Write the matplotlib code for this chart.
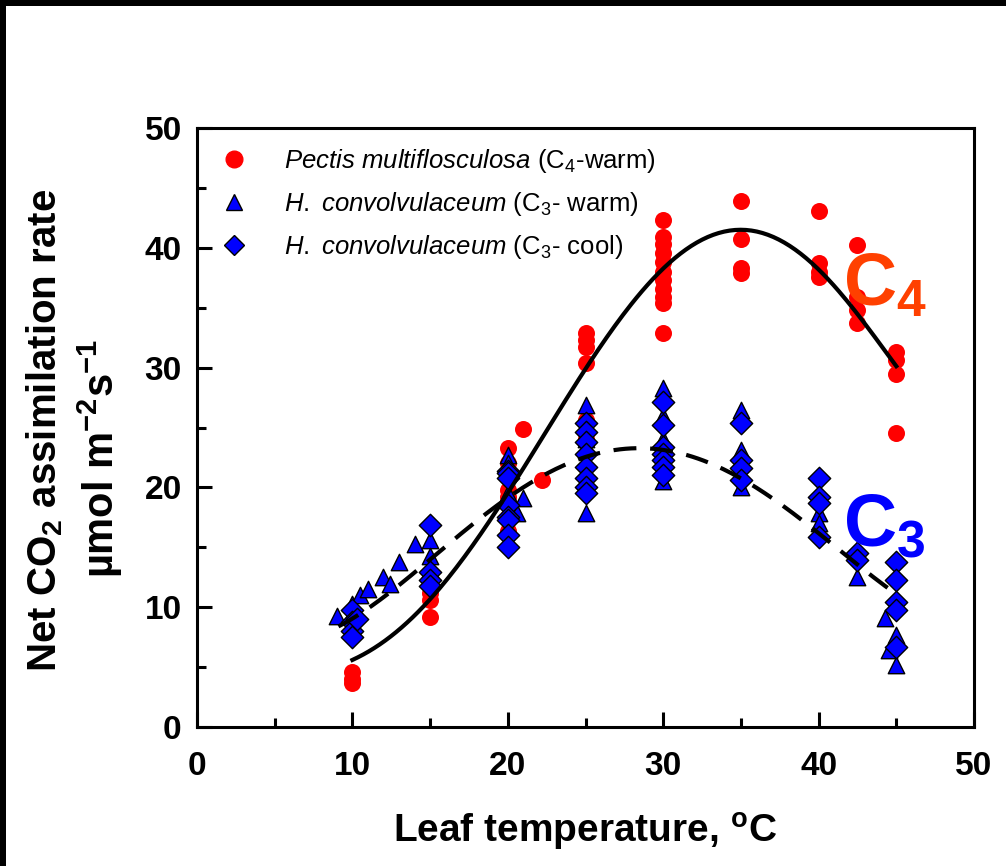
import numpy as np
import matplotlib
matplotlib.use("Agg")
import matplotlib.pyplot as plt
from matplotlib.patches import Rectangle
from matplotlib.lines import Line2D

plt.rcParams['font.family'] = ['Liberation Sans', 'DejaVu Sans']
plt.rcParams['mathtext.fontset'] = 'custom'
plt.rcParams['mathtext.rm'] = 'Liberation Sans'
plt.rcParams['mathtext.it'] = 'Liberation Sans:italic'
plt.rcParams['mathtext.bf'] = 'Liberation Sans:bold'

# ---------------- data ----------------
c4_temp = [10, 10, 10,
           15, 15, 15,
           20, 20, 20, 20, 20, 20, 20,
           21, 22.2,
           25, 25, 25, 25, 25, 25,
           30, 30, 30, 30, 30, 30, 30, 30, 30, 30, 30,
           35, 35, 35, 35,
           40, 40, 40, 40,
           42.5, 42.5, 42.5, 42.5,
           45, 45, 45, 45]
c4_rate = [4.6, 4.0, 3.7,
           11.2, 10.6, 9.2,
           23.3, 22.0, 21.3, 19.8, 19.2, 17.5, 16.4,
           24.9, 20.6,
           32.9, 32.3, 31.7, 30.4, 25.6, 24.0,
           42.3, 40.9, 40.3, 39.6, 38.8, 38.0, 37.3, 36.6, 35.9, 35.4, 32.9,
           43.9, 40.7, 38.3, 37.9,
           43.1, 38.7, 38.0, 37.6,
           40.2, 35.9, 34.8, 33.7,
           31.3, 30.6, 29.5, 24.5]

c3w_temp = [9, 10, 10, 10.5, 11, 12, 12.4, 13, 14, 15, 15, 15,
            20, 20, 20, 20, 20.6, 21,
            25, 25, 25,
            30, 30, 30, 30,
            35, 35, 35,
            40, 40,
            42.5, 42.5,
            44.3, 44.5, 45, 45]
c3w_rate = [9.3, 10.3, 9.5, 11.0, 11.5, 12.5, 11.9, 13.8, 15.3, 15.6, 14.3, 13.2,
            22.7, 22.0, 19.5, 16.5, 17.9, 19.1,
            26.9, 24.0, 17.9,
            28.3, 26.0, 24.0, 20.5,
            26.5, 23.1, 20.0,
            17.9, 17.0,
            14.8, 12.5,
            9.1, 6.4, 7.7, 5.2]

c3c_temp = [10, 10, 10, 10, 10.3,
            15, 15, 15, 15,
            20, 20, 20, 20, 20, 20, 20, 20,
            25, 25, 25, 25, 25, 25, 25, 25,
            30, 30, 30, 30, 30, 30, 30,
            35, 35, 35, 35,
            40, 40, 40, 40,
            42.5, 42.5,
            45, 45, 45, 45, 45]
c3c_rate = [9.8, 8.8, 8.0, 7.5, 9.0,
            16.9, 12.9, 12.3, 11.8,
            21.4, 21.2, 20.8, 18.5, 17.5, 17.3, 16.0, 15.0,
            25.4, 24.6, 23.8, 22.8, 21.7, 20.8, 20.0, 19.5,
            27.1, 25.2, 23.4, 22.8, 22.3, 21.7, 21.0,
            25.4, 22.3, 21.6, 20.6,
            20.8, 19.2, 18.7, 15.9,
            14.5, 13.9,
            13.8, 12.3, 10.4, 9.8, 6.7]

# fitted trend lines
c4_curve_temp = [10, 12.3, 14.3, 16.5, 18, 20.3, 22.5, 25.1, 27.4, 29.8, 32.2, 34.9, 36.4, 38.6, 40.7, 42.9, 45]
c4_curve_rate = [5.5, 7.6, 9.7, 12.7, 16.0, 20.0, 24.5, 30.0, 34.8, 38.1, 40.4, 41.3, 41.2, 39.7, 37.3, 34.0, 30.0]
c3_curve_temp = [9.1, 12.4, 13.4, 16.7, 18, 22, 24.6, 28.5, 31.1, 32.7, 34.9, 36.9, 38.3, 40.1, 42.2, 44.8]
c3_curve_rate = [8.3, 11.4, 12.3, 15.9, 17.0, 20.6, 22.5, 23.3, 22.9, 22.3, 20.7, 19.2, 17.9, 16.0, 13.9, 11.3]

legend_labels = [r"$\mathit{Pectis\ multiflosculosa}$ (C$_4$-warm)",
                 r"$\mathit{H.\ convolvulaceum}$ (C$_3$- warm)",
                 r"$\mathit{H.\ convolvulaceum}$ (C$_3$- cool)"]

# ---------------- figure ----------------
fig = plt.figure(figsize=(10.06, 8.66), dpi=100)
ax = fig.add_axes([197/1006, 1-727/866, (974-197)/1006, (727-128)/866])

RED = '#FF0000'
BLUE = '#0000FF'

ax.scatter(c4_temp, c4_rate, s=150, c=RED, marker='o', linewidths=0, zorder=2)
ax.scatter(c3w_temp, c3w_rate, s=140, c=BLUE, marker='^', edgecolors='black', linewidths=1.0, zorder=3)
ax.scatter(c3c_temp, c3c_rate, s=130, c=BLUE, marker='D', edgecolors='black', linewidths=1.0, zorder=3)

# smooth trend lines through the read-off curve values
c4_fit = np.polyfit(c4_curve_temp, c4_curve_rate, 5)
t4 = np.linspace(min(c4_curve_temp), max(c4_curve_temp), 200)
ax.plot(t4, np.polyval(c4_fit, t4), color='black', lw=3.0, zorder=4)

c3_fit = np.polyfit(c3_curve_temp, c3_curve_rate, 4)
t3 = np.linspace(min(c3_curve_temp), max(c3_curve_temp), 200)
ax.plot(t3, np.polyval(c3_fit, t3), color='black', lw=3.0, dashes=(5.5, 3.3), zorder=4)

ax.set_xlim(0, 50)
ax.set_ylim(0, 50)
ax.set_xticks(np.arange(0, 51, 10))
ax.set_xticks(np.arange(5, 50, 10), minor=True)
ax.set_yticks(np.arange(0, 51, 10))
ax.set_yticks(np.arange(5, 50, 10), minor=True)
ax.tick_params(which='both', direction='in', width=2.2, top=False, right=False)
ax.tick_params(which='major', length=11)
ax.tick_params(which='minor', length=6.5)
ax.tick_params(axis='x', which='major', pad=17, labelsize=24)
ax.tick_params(axis='y', which='major', pad=11, labelsize=24)
for lab in ax.get_xticklabels() + ax.get_yticklabels():
    lab.set_fontweight('bold')
for sp in ax.spines.values():
    sp.set_linewidth(2.2)

ax.set_xlabel(r"Leaf temperature, $^{\mathbf{o}}$C", fontsize=28, fontweight='bold', labelpad=21)

fig.text(45/1006, 1-430/866, r"Net CO$_{\mathbf{2}}$ assimilation rate", rotation=90,
         ha='center', va='center', fontsize=29, fontweight='bold')
fig.text(100/1006, 1-458/866, r"µmol m$^{\mathbf{-2}}$s$^{\mathbf{-1}}$", rotation=90,
         ha='center', va='center', fontsize=30, fontweight='bold')

handles = [Line2D([], [], ls='none', marker='o', ms=12, mfc=RED, mec=RED),
           Line2D([], [], ls='none', marker='^', ms=11, mfc=BLUE, mec='black', mew=1.0),
           Line2D([], [], ls='none', marker='D', ms=10, mfc=BLUE, mec='black', mew=1.0)]
ax.legend(handles, legend_labels, loc='upper left', bbox_to_anchor=(0.01, 0.985),
          frameon=False, fontsize=18.5, handletextpad=1.2, labelspacing=0.58,
          borderaxespad=0.0, handlelength=1.5)

ax.text(0.832, 0.737, r"C$_{\mathbf{4}}$", transform=ax.transAxes, color='#FF4000',
        fontsize=53, fontweight='bold', ha='left', va='center')
ax.text(0.832, 0.335, r"C$_{\mathbf{3}}$", transform=ax.transAxes, color=BLUE,
        fontsize=53, fontweight='bold', ha='left', va='center')

# black frame strips along the top and left edges of the image
fig.patches.append(Rectangle((0, 1-6/866), 1, 6/866, transform=fig.transFigure,
                             facecolor='black', edgecolor='none'))
fig.patches.append(Rectangle((0, 0), 6/1006, 1, transform=fig.transFigure,
                             facecolor='black', edgecolor='none'))

fig.savefig('out.png', dpi=100)
